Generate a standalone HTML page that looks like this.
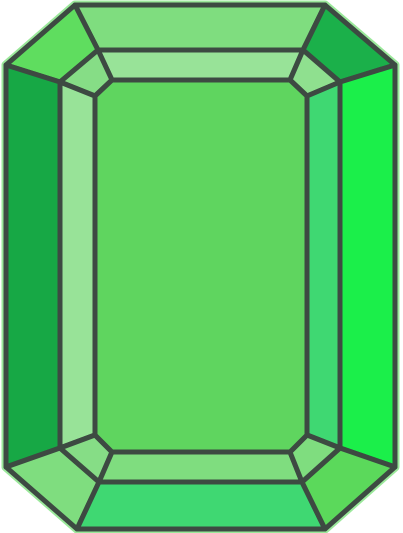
<!DOCTYPE html>
<html><head><meta charset="utf-8">
<style>html,body{margin:0;padding:0;background:#fff;width:403px;height:533px;overflow:hidden}</style>
</head><body>
<svg width="403" height="533" viewBox="0 0 403 533" xmlns="http://www.w3.org/2000/svg">
<g stroke="#3d4a42" stroke-width="5" stroke-linejoin="round">
<polygon points="75,5 325,5 395,65 395,467 325,529 77,529 6,467 6,65" fill="none" stroke="#9be89b" stroke-width="9"/>
<polygon points="75,5 325,5 303,50 98,50" fill="#7fdd7f"/>
<polygon points="75,5 98,50 60,82 6,65" fill="#5fdd5f"/>
<polygon points="325,5 395,65 340,82 303,50" fill="#1bb04a"/>
<polygon points="6,65 60,82 60,448 6,467" fill="#17a845"/>
<polygon points="395,65 395,467 340,448 340,82" fill="#1bef4a"/>
<polygon points="6,467 60,448 99,482 77,529" fill="#7fdd7f"/>
<polygon points="99,482 302,482 325,529 77,529" fill="#3fd872"/>
<polygon points="395,467 325,529 302,482 340,448" fill="#5bd95b"/>
<polygon points="98,50 303,50 290,80 112,80" fill="#98e398"/>
<polygon points="98,50 112,80 95,96 60,82" fill="#86dd86"/>
<polygon points="303,50 340,82 307,96 290,80" fill="#8fe08f"/>
<polygon points="60,82 95,96 95,435 60,448" fill="#98e398"/>
<polygon points="340,82 307,96 307,435 340,448" fill="#3fd872"/>
<polygon points="60,448 95,435 112,452 99,482" fill="#86dd86"/>
<polygon points="112,452 290,452 302,482 99,482" fill="#7fdd7f"/>
<polygon points="340,448 302,482 290,452 307,435" fill="#7fdd7f"/>
<polygon points="112,80 290,80 307,96 307,435 290,452 112,452 95,435 95,96" fill="#5fd55f"/>
</g>
</svg>
</body></html>
